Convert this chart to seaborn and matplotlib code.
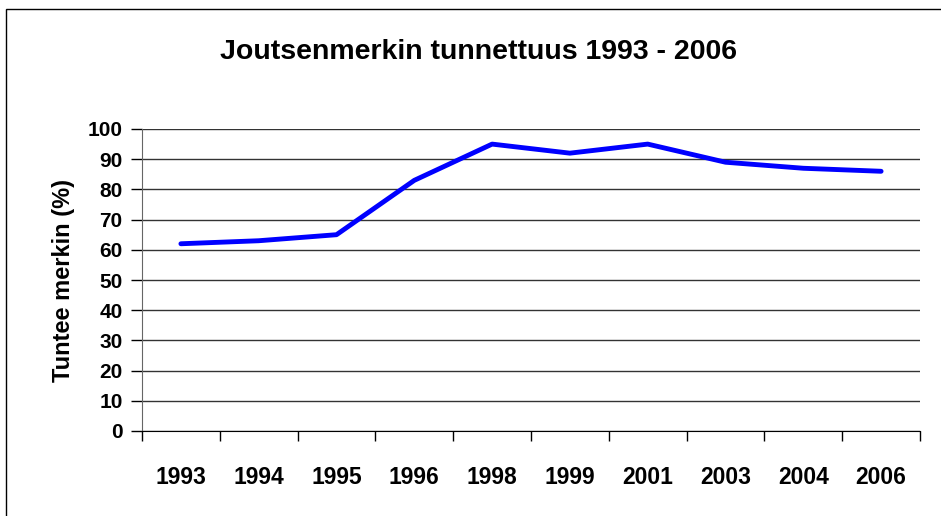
import matplotlib
matplotlib.use('Agg')
import matplotlib.pyplot as plt
import matplotlib.patches as patches
import seaborn as sns
import pandas as pd

years = ['1993', '1994', '1995', '1996', '1998', '1999', '2001', '2003', '2004', '2006']
tunnettuus = [62, 63, 65, 83, 95, 92, 95, 89, 87, 86]

df = pd.DataFrame({'vuosi': years, 'tunnettuus': tunnettuus})
df['pos'] = range(len(years))

sns.set_style('white')
plt.rcParams['font.family'] = ['Liberation Sans', 'DejaVu Sans']
plt.rcParams['font.weight'] = 'bold'
plt.rcParams['text.color'] = 'black'
plt.rcParams['xtick.color'] = 'black'
plt.rcParams['ytick.color'] = 'black'
plt.rcParams['axes.labelcolor'] = 'black'

fig = plt.figure(figsize=(9.41, 5.16), dpi=100)
ax = fig.add_axes([142 / 941, 1 - 431 / 516, (920 - 142) / 941, (431 - 129) / 516])

sns.lineplot(data=df, x='pos', y='tunnettuus', color='#0000FF', linewidth=3.5, ax=ax)

ax.set_xlim(-0.5, len(years) - 0.5)
ax.set_ylim(0, 100)
ax.set_yticks(range(0, 101, 10))
ax.set_xticks(range(len(years)))
ax.set_xticklabels(years)
ax.set_xticks([i - 0.5 for i in range(len(years) + 1)], minor=True)
ax.tick_params(axis='x', which='major', bottom=True, length=0, pad=25, labelsize=16.5)
ax.tick_params(axis='x', which='minor', bottom=True, length=7, width=1, color='black', direction='out')
ax.tick_params(axis='y', left=True, length=8, width=1, color='black', direction='out', labelsize=15, pad=6)
ax.grid(axis='y', color='#333333', linewidth=1)
ax.set_axisbelow(True)
for s in ['top', 'right']:
    ax.spines[s].set_visible(False)
ax.spines['left'].set_color('#666666')
ax.spines['bottom'].set_color('black')
ax.set_xlabel('')
ax.set_ylabel('Tuntee merkin (%)', fontsize=17, fontweight='bold', labelpad=9)

fig.text(0.508, 1 - 52 / 516, 'Joutsenmerkin tunnettuus 1993 - 2006',
         ha='center', va='center', fontsize=20.5, fontweight='bold')

fig.patches.append(patches.Rectangle((6 / 941, -0.1), 1.2, 1.1 - 9 / 516, transform=fig.transFigure,
                                     fill=False, edgecolor='black', linewidth=1))

fig.savefig('out.png', dpi=100)
